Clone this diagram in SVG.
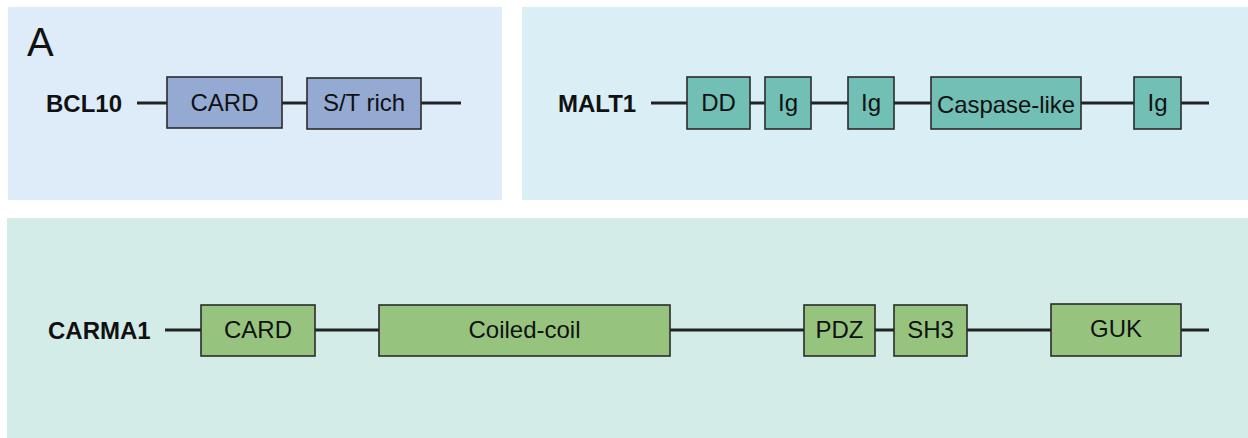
<svg xmlns="http://www.w3.org/2000/svg" width="1248" height="438" viewBox="0 0 1248 438">
<style>
.bg{stroke:none}
.ln{stroke:#222;stroke-width:3;fill:none}
.dom{stroke:#2b2b2b;stroke-width:1.6}
.b{fill:#95aad3}
.m{fill:#72bfb6}
.c{fill:#96c47f}
.t{font-family:"Liberation Sans",Arial,sans-serif;font-size:24px;fill:#111;text-anchor:middle}
.lab{font-family:"Liberation Sans",Arial,sans-serif;font-size:24px;font-weight:bold;fill:#111}
</style>
<rect width="1248" height="438" fill="#ffffff"/>
<g id="panels">
<rect class="bg" x="8" y="7" width="494" height="193" fill="#deebf8"/>
<rect class="bg" x="522" y="7" width="726" height="193" fill="#d9eef5"/>
<rect class="bg" x="7" y="218" width="1241" height="220" fill="#d3ece8"/>
<text x="27" y="56" font-family="Liberation Sans, Arial, sans-serif" font-size="40" fill="#111">A</text>
</g>
<g id="connectors">
<line class="ln" x1="137" y1="103" x2="167" y2="103"/>
<line class="ln" x1="282" y1="103" x2="307" y2="103"/>
<line class="ln" x1="421" y1="103" x2="461" y2="103"/>
<line class="ln" x1="651" y1="103" x2="687" y2="103"/>
<line class="ln" x1="750" y1="103" x2="765" y2="103"/>
<line class="ln" x1="811" y1="103" x2="848" y2="103"/>
<line class="ln" x1="894" y1="103" x2="931" y2="103"/>
<line class="ln" x1="1081" y1="103" x2="1134" y2="103"/>
<line class="ln" x1="1181" y1="103" x2="1209" y2="103"/>
<line class="ln" x1="165" y1="330" x2="201" y2="330"/>
<line class="ln" x1="315" y1="330" x2="379" y2="330"/>
<line class="ln" x1="670" y1="330" x2="804" y2="330"/>
<line class="ln" x1="875" y1="330" x2="894" y2="330"/>
<line class="ln" x1="967" y1="330" x2="1051" y2="330"/>
<line class="ln" x1="1181" y1="330" x2="1209" y2="330"/>
</g>
<g id="BCL10">
<text class="lab" x="46" y="112">BCL10</text>
<g id="bcl10-card"><rect class="dom b" x="167" y="77" width="115" height="51"/><text class="t" x="224.5" y="111">CARD</text></g>
<g id="bcl10-st"><rect class="dom b" x="307" y="78" width="114" height="51"/><text class="t" x="364" y="111">S/T rich</text></g>
</g>
<g id="MALT1">
<text class="lab" x="558" y="112">MALT1</text>
<g id="malt1-dd"><rect class="dom m" x="687" y="77" width="63" height="52"/><text class="t" x="718.5" y="111">DD</text></g>
<g id="malt1-ig1"><rect class="dom m" x="765" y="77" width="46" height="52"/><text class="t" x="788" y="111">Ig</text></g>
<g id="malt1-ig2"><rect class="dom m" x="848" y="77" width="46" height="52"/><text class="t" x="871" y="111">Ig</text></g>
<g id="malt1-casp"><rect class="dom m" x="931" y="77" width="150" height="52"/><text class="t" x="1006" y="113" textLength="138" lengthAdjust="spacingAndGlyphs">Caspase-like</text></g>
<g id="malt1-ig3"><rect class="dom m" x="1134" y="77" width="47" height="52"/><text class="t" x="1157.5" y="111">Ig</text></g>
</g>
<g id="CARMA1">
<text class="lab" x="48" y="339">CARMA1</text>
<g id="carma1-card"><rect class="dom c" x="201" y="305" width="114" height="51"/><text class="t" x="258" y="338">CARD</text></g>
<g id="carma1-cc"><rect class="dom c" x="379" y="305" width="291" height="51"/><text class="t" x="524.5" y="338">Coiled-coil</text></g>
<g id="carma1-pdz"><rect class="dom c" x="804" y="305" width="71" height="51"/><text class="t" x="839.5" y="338">PDZ</text></g>
<g id="carma1-sh3"><rect class="dom c" x="894" y="305" width="73" height="51"/><text class="t" x="930.5" y="338">SH3</text></g>
<g id="carma1-guk"><rect class="dom c" x="1051" y="304" width="130" height="52"/><text class="t" x="1116" y="337">GUK</text></g>
</g>
</svg>
